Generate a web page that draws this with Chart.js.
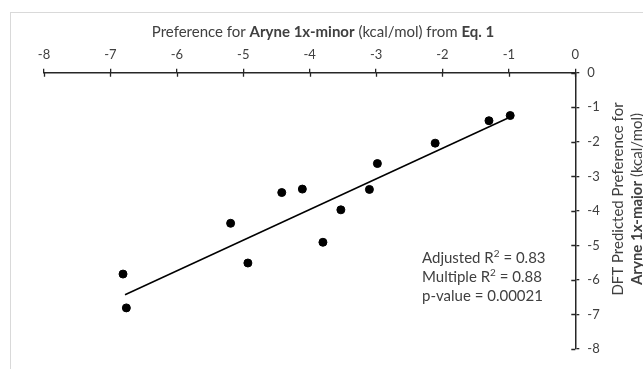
<!DOCTYPE html>
<html>
<head>
<meta charset="utf-8">
<script src="https://cdn.jsdelivr.net/npm/chart.js@4.4.0/dist/chart.umd.min.js"></script>
<style>
  html, body { margin: 0; padding: 0; background: #fff; }
  #wrap { position: relative; width: 643px; height: 369px; }
</style>
</head>
<body>
<div id="wrap"><canvas id="chart" width="643" height="369"></canvas></div>
<script>
// points
const xValues = [-0.98, -1.30, -2.11, -2.98, -3.10, -3.53, -4.11, -4.42, -5.19, -4.93, -3.80, -6.81, -6.76];
const yValues = [-1.24, -1.39, -2.04, -2.63, -3.38, -3.97, -3.37, -3.47, -4.36, -5.51, -4.91, -5.83, -6.81];
// trend line end points
const fitX = [-6.78, -1.02];
const fitY = [-6.43, -1.32];

const xTicks = [-8, -7, -6, -5, -4, -3, -2, -1, 0];
const yTicks = [0, -1, -2, -3, -4, -5, -6, -7, -8];

const xTitle = [['Preference for ', false], ['Aryne 1x-minor', true], [' (kcal/mol) from ', false], ['Eq. 1', true]];
const yTitle1 = [['DFT Predicted Preference for', false]];
const yTitle2 = [['Aryne 1x-major', true], [' (kcal/mol)', false]];
const statLines = [
  ['Adjusted R', '2', ' = 0.83'],
  ['Multiple R', '2', ' = 0.88'],
  ['p-value = 0.00021', '', '']
];

const FONT = 'Lato, "Open Sans", sans-serif';
const AXIS = '#262626';
const TEXT = '#404040';

function font(size, bold) {
  return (bold ? 'bold ' : '') + size + 'px ' + FONT;
}

function drawRich(ctx, parts, x, y, size) {
  const widths = parts.map(p => { ctx.font = font(size, p[1]); return ctx.measureText(p[0]).width; });
  const total = widths.reduce((a, b) => a + b, 0);
  let cx = x - total / 2;
  parts.forEach((p, i) => {
    ctx.font = font(size, p[1]);
    ctx.fillText(p[0], cx, y);
    cx += widths[i];
  });
}

const extras = {
  id: 'extras',
  beforeDraw(chart) {
    const ctx = chart.ctx;
    ctx.save();
    ctx.strokeStyle = '#d9d9d9';
    ctx.lineWidth = 1;
    ctx.strokeRect(10.5, 12.5, 700, 400);
    ctx.restore();
  },
  afterDraw(chart) {
    const ctx = chart.ctx;
    const xs = chart.scales.x, ys = chart.scales.y;
    ctx.save();
    // inner half of the crossing tick marks
    ctx.strokeStyle = AXIS;
    ctx.lineWidth = 1.3;
    ctx.beginPath();
    xTicks.forEach(v => {
      const px = Math.round(xs.getPixelForValue(v)) + 0.5;
      ctx.moveTo(px, ys.top);
      ctx.lineTo(px, ys.top + 4);
    });
    yTicks.forEach(v => {
      const py = Math.round(ys.getPixelForValue(v)) + 0.5;
      ctx.moveTo(xs.right, py);
      ctx.lineTo(xs.right - 4, py);
    });
    ctx.stroke();

    ctx.fillStyle = TEXT;
    ctx.textBaseline = 'middle';
    ctx.textAlign = 'left';
    drawRich(ctx, xTitle, 323, 32, 15);

    ctx.save();
    ctx.translate(618, 199);
    ctx.rotate(-Math.PI / 2);
    drawRich(ctx, yTitle1, 0, 0, 15);
    ctx.restore();
    ctx.save();
    ctx.translate(637, 199);
    ctx.rotate(-Math.PI / 2);
    drawRich(ctx, yTitle2, 0, 0, 15);
    ctx.restore();

    // stats box
    ctx.fillStyle = TEXT;
    const sx = 422, sy = 258, lh = 19.2;
    statLines.forEach((l, i) => {
      let cx = sx;
      const y = sy + i * lh;
      ctx.font = font(15, false);
      ctx.fillText(l[0], cx, y);
      cx += ctx.measureText(l[0]).width;
      if (l[1]) {
        ctx.font = font(10, false);
        ctx.fillText(l[1], cx, y - 4);
        cx += ctx.measureText(l[1]).width;
      }
      ctx.font = font(15, false);
      ctx.fillText(l[2], cx, y);
    });
    ctx.restore();
  }
};

new Chart(document.getElementById('chart'), {
  type: 'scatter',
  data: {
    datasets: [
      {
        label: 'Data',
        data: xValues.map((x, i) => ({ x, y: yValues[i] })),
        backgroundColor: '#000',
        borderColor: '#000',
        pointRadius: 4,
        pointHoverRadius: 4
      },
      {
        label: 'Fit',
        type: 'line',
        data: fitX.map((x, i) => ({ x, y: fitY[i] })),
        borderColor: '#000',
        borderWidth: 1.5,
        pointRadius: 0,
        fill: false
      }
    ]
  },
  options: {
    responsive: false,
    animation: false,
    devicePixelRatio: 1,
    layout: { padding: { left: 44, bottom: 20, top: 0, right: 0 } },
    plugins: { legend: { display: false }, tooltip: { enabled: false } },
    scales: {
      x: {
        type: 'linear',
        position: 'top',
        min: -8,
        max: 0,
        afterBuildTicks: s => { s.ticks = xTicks.map(v => ({ value: v })); },
        afterFit: s => { s.height = 72.7; },
        grid: { drawOnChartArea: false, tickLength: 4, color: AXIS, lineWidth: 1.3 },
        border: { color: AXIS, width: 1.5 },
        ticks: { color: TEXT, font: { family: FONT, size: 13 }, padding: 6, maxRotation: 0, autoSkip: false }
      },
      y: {
        type: 'linear',
        position: 'right',
        min: -8,
        max: 0,
        afterBuildTicks: s => { s.ticks = yTicks.map(v => ({ value: v })); },
        afterFit: s => { s.width = 643 - 575.3; },
        grid: { drawOnChartArea: false, tickLength: 4, color: AXIS, lineWidth: 1.3 },
        border: { color: AXIS, width: 1.5 },
        ticks: { color: TEXT, font: { family: FONT, size: 13 }, padding: 8, autoSkip: false }
      }
    }
  },
  plugins: [extras]
});
</script>
</body>
</html>
